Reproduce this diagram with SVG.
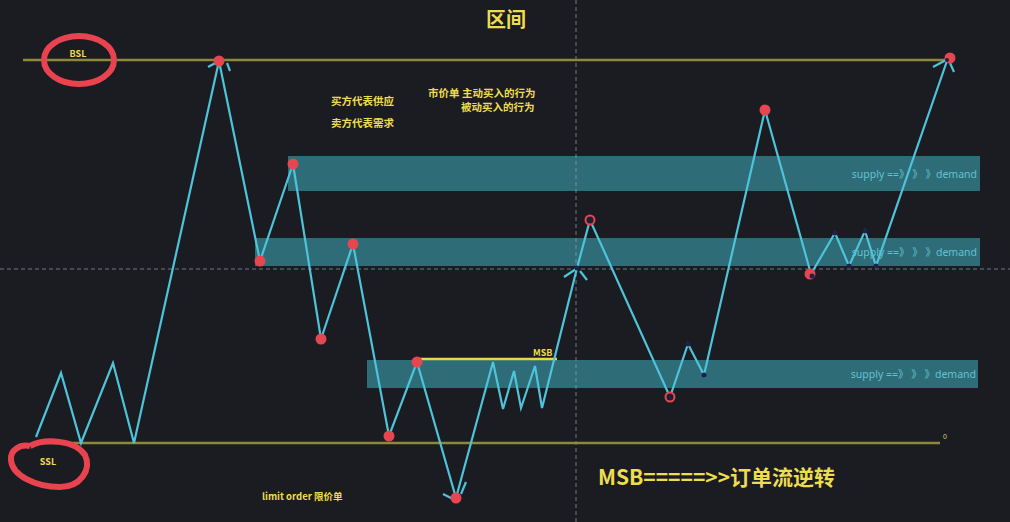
<svg xmlns="http://www.w3.org/2000/svg" width="1010" height="522" viewBox="0 0 1010 522">
<style>
.lvl{stroke:#8e893a;stroke-width:2.5;fill:none}
.band{fill:#2e6c78}
.bt{fill:#63c2d2;font-family:"Noto Sans","Liberation Sans","Noto Sans CJK SC",sans-serif;font-size:10.5px;text-anchor:end}
.price{stroke:#4ec3d9;stroke-width:2.2;fill:none;stroke-linejoin:miter}
.dot{fill:#e5464f}
.ring{fill:#1c1f35;stroke:#e5464f;stroke-width:2}
.dk{fill:#1c2150}
.yt{fill:#eedd50;font-family:"Noto Sans CJK SC","Liberation Sans",sans-serif;font-weight:bold}
.circ{fill:none;stroke:#e8434f;stroke-width:6}
.guide{stroke:#9aa0a8;stroke-width:1;stroke-dasharray:4 3;fill:none;opacity:0.7}
</style>
<rect width="1010" height="522" fill="#1a1c21"/>
<g id="bands">
<rect class="band" x="288" y="156" width="692" height="35"/>
<rect class="band" x="255" y="238" width="725" height="28"/>
<rect class="band" x="367" y="360" width="611" height="28"/>
<text class="bt" x="977" y="178">supply ==》 》 》demand</text>
<text class="bt" x="977" y="256">supply ==》 》 》demand</text>
<text class="bt" x="976" y="378">supply ==》 》 》demand</text>
</g>
<g id="guides">
<line class="guide" x1="576" y1="0" x2="576" y2="522"/>
<line class="guide" x1="0" y1="269" x2="1010" y2="269"/>
</g>
<g id="levels">
<line class="lvl" x1="23" y1="60" x2="945" y2="60"/>
<line class="lvl" x1="40" y1="443" x2="940" y2="443"/>
<text x="943" y="439" fill="#d8cf70" font-family="Liberation Sans,sans-serif" font-size="7">0</text>
<line x1="417" y1="359" x2="557" y2="359" stroke="#e8d848" stroke-width="2.5"/>
</g>
<g id="connectors">
<polyline class="price" points="36,437 61,373 81,443 113,363 134,443 219,61 260,261 293,164 321,339 353,244 389,436 417,362 456,498 493,362 503,409 514,371 521,408 535,366 542,408 577,268 590,220 670,397 688,344 704,375 765,110 811,274 835,233 849,266 865,231 876,266 948,58"/>
<polyline class="price" points="208,67 219,61"/>
<polyline class="price" points="227,63 230,71"/>
<polyline class="price" points="933,67 946,60"/>
<polyline class="price" points="950,63 954,72"/>
<polyline class="price" points="564,277 576,269"/>
<polyline class="price" points="580,271 587,280"/>
<polyline class="price" points="443,494 455,500"/>
<polyline class="price" points="461,494 466,482"/>
</g>
<g id="pivots">
<circle class="dot" cx="219" cy="61" r="5.5"/>
<circle class="dot" cx="260" cy="261" r="5.5"/>
<circle class="dot" cx="293" cy="164" r="5.5"/>
<circle class="dot" cx="321" cy="339" r="5.5"/>
<circle class="dot" cx="353" cy="244" r="5.5"/>
<circle class="dot" cx="389" cy="436" r="5.5"/>
<circle class="dot" cx="417" cy="362" r="5.5"/>
<circle class="dot" cx="456" cy="498" r="5.5"/>
<circle class="dot" cx="765" cy="110" r="5.5"/>
<circle class="dot" cx="810" cy="274" r="5.5"/>
<circle class="dot" cx="950" cy="58" r="5.5"/>
<circle class="ring" cx="590" cy="220" r="4.5"/>
<circle class="ring" cx="670" cy="397" r="4.5"/>
<circle class="dk" cx="577" cy="268" r="2.5"/>
<circle class="dk" cx="688" cy="344" r="2.5"/>
<circle class="dk" cx="704" cy="375" r="2.5"/>
<circle class="dk" cx="812" cy="276" r="2.5"/>
<circle class="dk" cx="835" cy="233" r="2.5"/>
<circle class="dk" cx="849" cy="266" r="2.5"/>
<circle class="dk" cx="865" cy="231" r="2.5"/>
<circle class="dk" cx="876" cy="266" r="2.5"/>
<circle class="dk" cx="947" cy="60" r="2"/>
</g>
<g id="bsl">
<ellipse class="circ" cx="79" cy="60" rx="35" ry="24"/>
<text class="yt" x="78" y="57" font-size="9" text-anchor="middle">BSL</text>
</g>
<g id="ssl">
<path class="circ" d="M30,446 C45,438 75,440 85,455 C92,470 80,487 60,487 C35,487 12,475 11,460 C10,450 20,444 30,446"/>
<text class="yt" x="48" y="465" font-size="9" text-anchor="middle">SSL</text>
</g>
<g id="labels">
<text class="yt" x="506" y="27" font-size="20" text-anchor="middle">区间</text>
<text class="yt" x="331" y="105" font-size="10.5">买方代表供应</text>
<text class="yt" x="331" y="127" font-size="10.5">卖方代表需求</text>
<text class="yt" x="428" y="97" font-size="10.5">市价单 主动买入的行为</text>
<text class="yt" x="461" y="111" font-size="10.5">被动买入的行为</text>
<text class="yt" x="533" y="356" font-size="9">MSB</text>
<text class="yt" x="598" y="485" font-size="21">MSB=====&gt;&gt;订单流逆转</text>
<text class="yt" x="262" y="500" font-size="9.5">limit order 限价单</text>
</g>
</svg>
